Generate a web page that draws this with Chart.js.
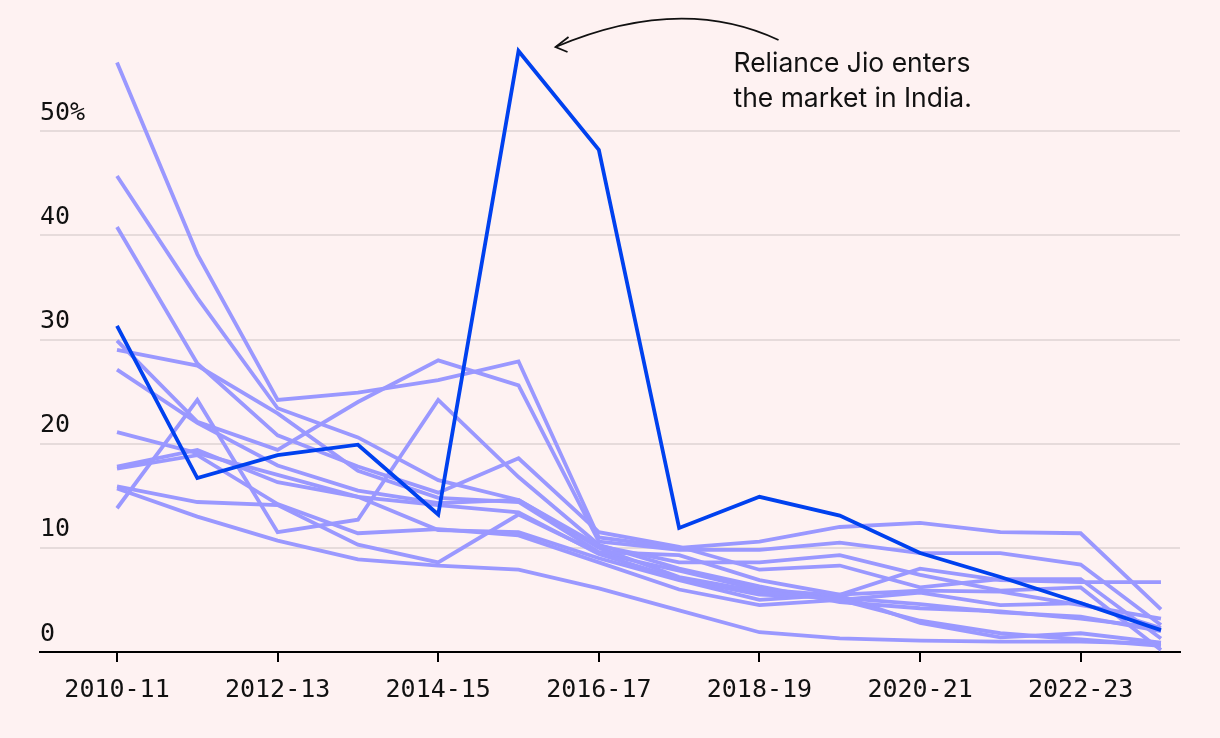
<!DOCTYPE html>
<html>
<head>
<meta charset="utf-8">
<script src="https://cdn.jsdelivr.net/npm/chart.js@4.4.1/dist/chart.umd.min.js"></script>
<style>
  html, body { margin: 0; padding: 0; background: #fef2f2; }
  #wrap { width: 1220px; height: 738px; position: relative; }
</style>
</head>
<body>
<div id="wrap"><canvas id="c"></canvas></div>
<script>
const categories = ['2010-11','2011-12','2012-13','2013-14','2014-15','2015-16','2016-17',
                    '2017-18','2018-19','2019-20','2020-21','2021-22','2022-23','2023-24'];
const xTickYears = ['2010-11','2012-13','2014-15','2016-17','2018-19','2020-21','2022-23'];
const yTickValues = [0, 10, 20, 30, 40, 50];

const jio = [31.3, 16.7, 18.9, 19.9, 13.2, 57.7, 48.2, 11.9, 14.9, 13.1, 9.5, 7.2, 4.7, 2.1];

const opA = [56.6, 38.2, 24.2, 24.9, 26.1, 27.9, 11.0, 10.0, 10.6, 12.0, 12.4, 11.5, 11.4, 4.1];
const opB = [29.9, 22.1, 19.4, 24.0, 28.0, 25.6, 10.6, 9.8, 9.8, 10.5, 9.5, 9.5, 8.4, 2.6];
const opC = [45.7, 34.0, 23.4, 20.6, 16.5, 14.6, 10.2, 8.6, 8.6, 9.3, 7.4, 5.9, 6.2, 0.2];
const opD = [40.8, 27.7, 20.8, 17.8, 15.3, 18.6, 11.5, 10.1, 7.9, 8.3, 6.2, 7.0, 7.0, 1.3];
const opE = [29.0, 27.5, 22.9, 17.4, 14.8, 14.4, 9.6, 9.3, 6.9, 5.5, 8.0, 6.9, 6.7, 6.7];
const opF = [27.1, 22.0, 17.9, 15.5, 14.3, 14.6, 10.0, 7.2, 5.8, 5.0, 5.7, 4.5, 4.7, 2.3];
const opG = [21.1, 19.1, 17.0, 14.9, 14.1, 13.4, 9.4, 7.0, 5.5, 5.2, 4.6, 3.8, 3.4, 2.0];
const opH = [17.8, 19.4, 16.3, 14.9, 11.7, 11.5, 9.0, 6.9, 5.0, 5.5, 5.9, 5.8, 4.5, 3.2];
const opI = [17.6, 18.9, 14.2, 11.4, 11.8, 11.2, 8.6, 6.0, 4.5, 5.0, 3.0, 1.8, 1.2, 0.6];
const opJ = [15.9, 14.4, 14.1, 10.3, 8.6, 13.2, 9.5, 7.8, 6.0, 5.4, 2.8, 1.4, 1.8, 0.9];
const opK = [15.7, 13.0, 10.7, 8.9, 8.3, 7.9, 6.1, 4.0, 1.9, 1.3, 1.1, 1.0, 1.0, 0.8];
const opL = [13.8, 24.2, 11.5, 12.7, 24.2, 16.8, 10.3, 8.0, 6.3, 4.8, 4.2, 3.9, 3.2, 2.3];

const otherOperators = [opA, opB, opC, opD, opE, opF, opG, opH, opI, opJ, opK, opL];

const annotationLines = ['Reliance Jio enters', 'the market in India.'];

const BG = '#fef2f2';
const LIGHT = '#9a98ff';
const JIO = '#0041ef';
const MONO = '"DejaVu Sans Mono", "Liberation Mono", monospace';

function toPoints(arr) { return arr.map((v, i) => ({ x: i, y: v })); }

const datasets = [{
  label: 'Jio', data: toPoints(jio), borderColor: JIO, borderWidth: 3.8,
  pointRadius: 0, tension: 0, order: 0, fill: false
}].concat(otherOperators.map((arr, k) => ({
  label: 'op' + k, data: toPoints(arr), borderColor: LIGHT, borderWidth: 3.8,
  pointRadius: 0, tension: 0, order: 1, fill: false
})));

const bgPlugin = {
  id: 'bg',
  beforeDraw(chart) {
    const ctx = chart.ctx;
    ctx.save();
    ctx.fillStyle = BG;
    ctx.fillRect(0, 0, chart.width, chart.height);
    ctx.restore();
  }
};

const notePlugin = {
  id: 'note',
  afterDraw(chart) {
    const ctx = chart.ctx;
    const xs = chart.scales.x, ys = chart.scales.y;
    const peakIdx = jio.indexOf(Math.max(...jio));
    const px = xs.getPixelForValue(peakIdx);
    const py = ys.getPixelForValue(jio[peakIdx]);
    ctx.save();
    let size = 24;
    ctx.font = size + 'px Inter, "Liberation Sans", sans-serif';
    const w = ctx.measureText(annotationLines[0]).width;
    size = size * 237 / w;
    ctx.font = size.toFixed(2) + 'px Inter, "Liberation Sans", sans-serif';
    ctx.fillStyle = '#111';
    ctx.textBaseline = 'alphabetic';
    ctx.textAlign = 'left';
    const tx = px + 215, ty = py + 21;
    ctx.fillText(annotationLines[0], tx, ty);
    ctx.fillText(annotationLines[1], tx, ty + 35);
    const sx = px + 260, sy = py - 11;
    const ex = px + 37, ey = py - 4;
    const cx = px + 162, cy = py - 57;
    ctx.strokeStyle = '#111';
    ctx.lineWidth = 1.8;
    ctx.beginPath();
    ctx.moveTo(sx, sy);
    ctx.quadraticCurveTo(cx, cy, ex, ey);
    ctx.stroke();
    ctx.beginPath();
    ctx.moveTo(ex + 13, ey - 10);
    ctx.lineTo(ex, ey);
    ctx.lineTo(ex + 12, ey + 5);
    ctx.stroke();
    ctx.restore();
  }
};

new Chart(document.getElementById('c'), {
  type: 'line',
  data: { datasets },
  plugins: [bgPlugin, notePlugin],
  options: {
    responsive: true,
    maintainAspectRatio: false,
    animation: false,
    events: [],
    layout: { padding: { left: 40, right: 40, top: 27, bottom: 0 } },
    plugins: { legend: { display: false }, tooltip: { enabled: false } },
    scales: {
      x: {
        type: 'linear',
        min: -0.959,
        max: 13.237,
        afterBuildTicks(scale) {
          scale.ticks = xTickYears.map(lbl => ({ value: categories.indexOf(lbl) }));
        },
        afterFit(scale) { scale.height = 86; },
        ticks: {
          autoSkip: false, maxRotation: 0, minRotation: 0,
          padding: 13,
          color: '#111',
          font: { family: MONO, size: 25 },
          callback: (v) => categories[v]
        },
        grid: {
          drawOnChartArea: false, drawTicks: true, tickLength: 10,
          tickColor: '#000', lineWidth: 2
        },
        border: { display: true, color: '#000', width: 2 }
      },
      y: {
        min: 0,
        max: 60,
        afterBuildTicks(scale) {
          scale.ticks = yTickValues.map(v => ({ value: v }));
        },
        afterFit(scale) { scale.width = 0; },
        ticks: {
          mirror: true, padding: 0, labelOffset: -18,
          color: '#111',
          font: { family: MONO, size: 25 },
          callback: (v) => v === 50 ? '50%' : String(v)
        },
        grid: {
          drawTicks: false,
          lineWidth: 2,
          color: (c) => c.tick && c.tick.value === 0 ? 'rgba(0,0,0,0)' : '#e6dbdb'
        },
        border: { display: false }
      }
    }
  }
});
</script>
</body>
</html>
